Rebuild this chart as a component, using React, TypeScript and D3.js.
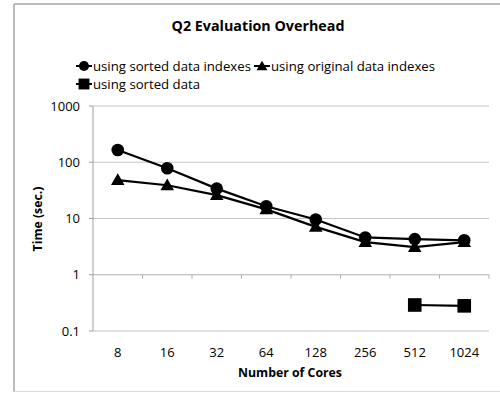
import React from 'react';
import * as d3 from 'd3';

// data
const cores = ['8', '16', '32', '64', '128', '256', '512', '1024'];
const sortedIndexes = [165, 78, 34, 16.5, 9.6, 4.6, 4.3, 4.1];
const originalIndexes = [48, 39, 26, 14.5, 7.1, 3.8, 3.1, 3.8];
const sortedData: (number | null)[] = [null, null, null, null, null, null, 0.29, 0.28];
const yTicks = [0.1, 1, 10, 100, 1000];
const yTickLabels = ['0.1', '1', '10', '100', '1000'];

const seriesNames = ['using sorted data indexes', 'using original data indexes', 'using sorted data'];

const font = '"Open Sans", sans-serif';

function Marker({ kind, x, y, s = 1 }: { kind: string; x: number; y: number; s?: number }) {
  if (kind === 'circle') return <circle cx={x} cy={y} r={6.3 * s} fill="#000" />;
  if (kind === 'triangle')
    return <path d={d3.symbol(d3.symbolTriangle, 80 * s * s)() || ''} transform={`translate(${x},${y + 1})`} fill="#000" />;
  return <rect x={x - 6.8 * s} y={y - 6.8 * s} width={13.6 * s} height={13.6 * s} fill="#000" />;
}

export default function App() {
  const width = 500;
  const height = 393;
  const margin = { top: 106, right: 11, bottom: 62, left: 93 };

  const x = d3.scaleBand().domain(cores).range([margin.left, width - margin.right]);
  const y = d3.scaleLog().domain([0.1, 1000]).range([height - margin.bottom, margin.top]);

  const line = d3
    .line<number | null>()
    .defined(d => d != null)
    .x((_, i) => (x(cores[i]) || 0) + x.bandwidth() / 2)
    .y(d => y(d as number));

  const series = [
    { name: seriesNames[0], values: sortedIndexes as (number | null)[], kind: 'circle' },
    { name: seriesNames[1], values: originalIndexes as (number | null)[], kind: 'triangle' },
    { name: seriesNames[2], values: sortedData, kind: 'square' },
  ];

  const legendPos = [
    { x: 76, y: 66 },
    { x: 254, y: 66 },
    { x: 76, y: 84 },
  ];

  const x0 = margin.left;
  const x1 = width - margin.right;
  const axisY = y(1);

  return (
    <svg width={width} height={height} style={{ position: 'absolute', left: 0, top: 0, background: '#fff', overflow: 'hidden' }}>
      {/* chart frame, cropped on the right */}
      <line x1={14} x2={width} y1={4} y2={4} stroke="#a6a6a6" strokeWidth={1.5} />
      <line x1={14} x2={14} y1={4} y2={392} stroke="#a6a6a6" strokeWidth={1.5} />
      <line x1={14} x2={width} y1={391.5} y2={391.5} stroke="#d9d9d9" strokeWidth={1} />

      <text x={258} y={31} textAnchor="middle" fontFamily={font} fontWeight="bold" fontSize={14.3} fill="#000">
        Q2 Evaluation Overhead
      </text>

      {/* legend */}
      {series.map((s, i) => (
        <g key={s.name}>
          <line x1={legendPos[i].x} x2={legendPos[i].x + 16} y1={legendPos[i].y} y2={legendPos[i].y} stroke="#000" strokeWidth={2} />
          <Marker kind={s.kind} x={legendPos[i].x + 8} y={legendPos[i].y} s={0.8} />
          <text x={legendPos[i].x + 17} y={legendPos[i].y + 4.5} fontFamily={font} fontSize={13.2} fill="#000">
            {s.name}
          </text>
        </g>
      ))}

      {/* gridlines */}
      {yTicks.map((t, i) => (
        <g key={t}>
          {t !== 1 && <line x1={x0} x2={x1} y1={y(t)} y2={y(t)} stroke="#c6c6c6" strokeWidth={1.2} />}
          <line x1={x0 - 4} x2={x0} y1={y(t)} y2={y(t)} stroke="#a0a0a0" strokeWidth={1} />
          <text x={80} y={y(t) + 4.5} textAnchor="end" fontFamily={font} fontSize={13} fill="#000">
            {yTickLabels[i]}
          </text>
        </g>
      ))}

      {/* category axis crossing at 1 */}
      <line x1={x0} x2={x1} y1={axisY} y2={axisY} stroke="#b0b0b0" strokeWidth={1.2} />
      {cores.map(c => (
        <line key={c} x1={(x(c) || 0) + x.bandwidth()} x2={(x(c) || 0) + x.bandwidth()} y1={axisY} y2={axisY + 4} stroke="#b0b0b0" strokeWidth={1} />
      ))}
      <line x1={x0} x2={x0} y1={margin.top} y2={height - margin.bottom} stroke="#a0a0a0" strokeWidth={1} />

      {cores.map(c => (
        <text key={c} x={(x(c) || 0) + x.bandwidth() / 2} y={357} textAnchor="middle" fontFamily={font} fontSize={13} fill="#000">
          {c}
        </text>
      ))}

      <text x={290} y={377} textAnchor="middle" fontFamily={font} fontWeight="bold" fontSize={12.3} fill="#000">
        Number of Cores
      </text>
      <text transform={`translate(42,219) rotate(-90)`} textAnchor="middle" fontFamily={font} fontWeight="bold" fontSize={12.3} fill="#000">
        Time (sec.)
      </text>

      {/* series */}
      {series.map(s => (
        <g key={s.name}>
          <path d={line(s.values) || ''} fill="none" stroke="#000" strokeWidth={2.2} />
          {s.values.map((v, i) =>
            v == null ? null : <Marker key={i} kind={s.kind} x={(x(cores[i]) || 0) + x.bandwidth() / 2} y={y(v)} />
          )}
        </g>
      ))}
    </svg>
  );
}
